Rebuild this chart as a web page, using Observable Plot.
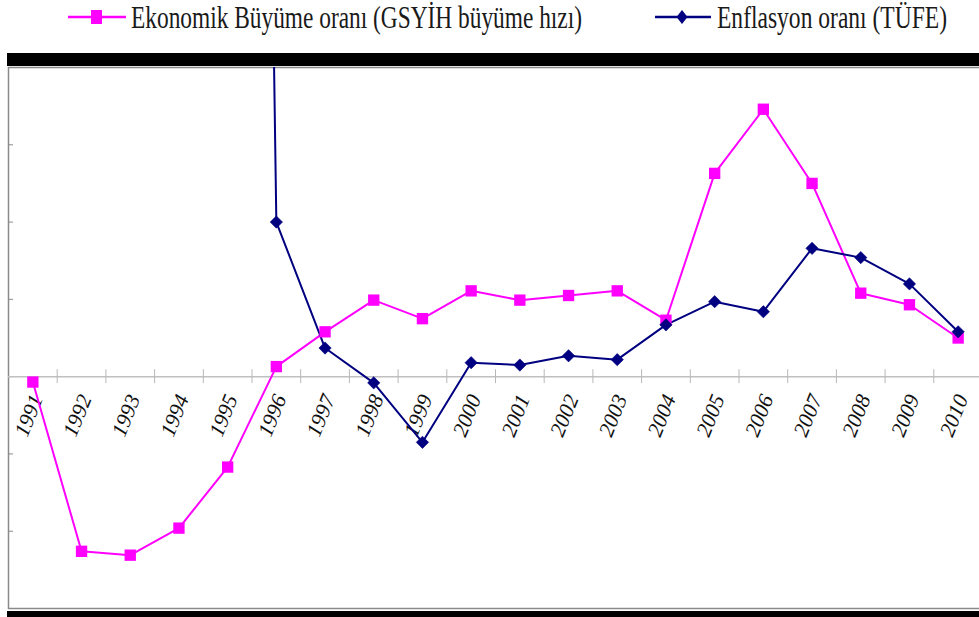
<!DOCTYPE html>
<html>
<head>
<meta charset="utf-8">
<script src="https://cdn.jsdelivr.net/npm/d3@7"></script>
<script src="https://cdn.jsdelivr.net/npm/@observablehq/plot@0.6"></script>
<style>
  html, body { margin: 0; padding: 0; background: #fff; overflow: hidden; width: 979px; height: 617px; }
  #legend { position: relative; height: 53px; width: 979px; font-family: "Liberation Serif", "Times New Roman", serif; color: #1a1a1a; }
  .sw { position: absolute; top: 6px; }
  .lbl { position: absolute; top: 1px; font-size: 32px; line-height: 1; white-space: nowrap; transform-origin: left center; }
  #chart { margin-left: 7px; width: 975px; border-top: 13px solid #000; border-bottom: 10px solid #000; }
  #chart svg { max-width: none !important; }
</style>
</head>
<body>
<div id="legend"></div>
<div id="chart"></div>
<script>
// ---- data ----
const years = [1991, 1992, 1993, 1994, 1995, 1996, 1997, 1998, 1999, 2000,
               2001, 2002, 2003, 2004, 2005, 2006, 2007, 2008, 2009, 2010];
const growth = [-0.7, -22.6, -23.1, -19.6, -11.7, 1.3, 5.8, 9.9, 7.5, 11.1,
                9.9, 10.5, 11.1, 7.3, 26.3, 34.6, 25.0, 10.8, 9.3, 5.0];
const inflation = [null, null, null, null, 450, 20.0, 3.7, -0.8, -8.5, 1.8,
                   1.5, 2.7, 2.2, 6.7, 9.7, 8.4, 16.6, 15.4, 12.0, 5.8];
const seriesNames = ["Ekonomik Büyüme oranı (GSYİH büyüme hızı)", "Enflasyon oranı (TÜFE)"];
const seriesColors = ["#ff00ff", "#000080"];
const yTicks = [-30, -20, -10, 0, 10, 20, 30, 40];

const growthData = years.map((y, i) => ({year: y, value: growth[i]}));
const inflData = years.map((y, i) => ({year: y, value: inflation[i]}));
const bounds = years.slice(1).map(y => y - 0.5);

// ---- legend ----
const legend = document.getElementById("legend");
legend.innerHTML = `
  <svg class="sw" style="left:66px" width="62" height="22">
    <line x1="2" x2="60" y1="11" y2="11" stroke="${seriesColors[0]}" stroke-width="2.5"/>
    <rect x="25" y="4" width="11" height="14" fill="${seriesColors[0]}"/>
  </svg>
  <span class="lbl" id="l1" style="left:131px">${seriesNames[0]}</span>
  <svg class="sw" style="left:653px" width="60" height="22">
    <line x1="2" x2="58" y1="11" y2="11" stroke="${seriesColors[1]}" stroke-width="2.5"/>
    <path d="M29,4 L34.5,11 L29,18 L23.5,11 Z" fill="${seriesColors[1]}"/>
  </svg>
  <span class="lbl" id="l2" style="left:717px">${seriesNames[1]}</span>`;
function fit(id, w) {
  const el = document.getElementById(id);
  const cw = el.getBoundingClientRect().width;
  el.style.transform = `scaleX(${w / cw})`;
}
fit("l1", 451);
fit("l2", 230);

// ---- chart ----
const chart = Plot.plot({
  width: 975,
  height: 545,
  marginLeft: 1,
  marginRight: 0,
  marginTop: 1,
  marginBottom: 3,
  x: {type: "linear", domain: [1990.5, 2010.5], axis: null},
  y: {domain: [-30, 40], axis: null},
  marks: [
    Plot.frame({stroke: "#8a8a8a", strokeWidth: 1.5}),
    Plot.axisY({ticks: yTicks, tickSize: -5, tickFormat: () => "", label: null, stroke: "#8a8a8a"}),
    Plot.ruleY([0], {stroke: "#c0c0c0", strokeWidth: 1.5}),
    Plot.ruleX(bounds, {y1: -0.9, y2: 0.9, stroke: "#b8b8b8"}),
    Plot.text(years, {
      x: d => d, y: 0, text: d => String(d),
      rotate: -68, textAnchor: "end", lineAnchor: "middle",
      dx: 4, dy: 19,
      fontSize: 21.5, fontStyle: "italic", fontFamily: "Liberation Serif",
      fill: "#111"
    }),
    Plot.line(growthData, {x: "year", y: "value", stroke: seriesColors[0], strokeWidth: 2, clip: "frame"}),
    Plot.line(inflData, {x: "year", y: "value", stroke: seriesColors[1], strokeWidth: 2, clip: "frame"}),
    Plot.dot(growthData, {x: "year", y: "value", symbol: "square", r: 6.4, fill: seriesColors[0], clip: "frame"}),
    Plot.dot(inflData.filter(d => d.value !== null), {x: "year", y: "value", symbol: "square", rotate: 45, r: 4.9, fill: seriesColors[1], stroke: seriesColors[1], strokeWidth: 0.6, clip: "frame"})
  ]
});
document.getElementById("chart").appendChild(chart);
</script>
</body>
</html>
